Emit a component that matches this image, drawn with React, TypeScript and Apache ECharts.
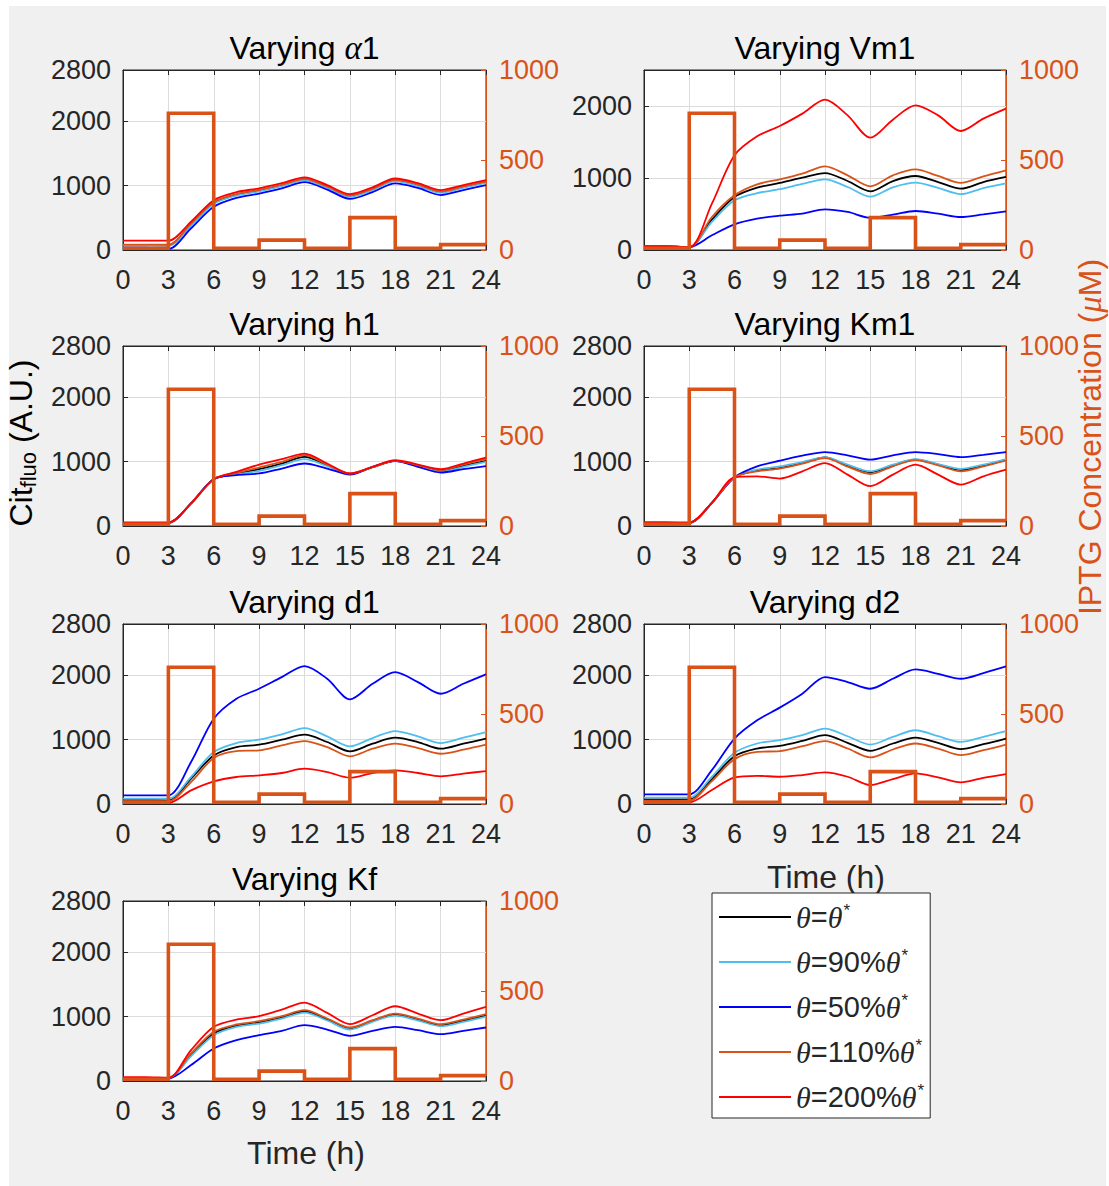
import React, { useEffect, useRef } from 'react';
import * as echarts from 'echarts';

// ---------- data ----------
const times = [0, 1.5, 3, 4.5, 6, 7.5, 9, 10.5, 12, 13.5, 15, 16.5, 18, 19.5, 21, 22.5, 24];

const iptgEdges = [0, 3, 6, 9, 12, 15, 18, 21, 24];
const iptgLevels = [10, 760, 10, 55, 10, 180, 10, 30];

const percents = ['', '90%', '50%', '110%', '200%'];
const seriesNames = ['θ=θ*', 'θ=90%θ*', 'θ=50%θ*', 'θ=110%θ*', 'θ=200%θ*'];
const seriesColors = ['#000000', '#4DBEEE', '#0000FF', '#D95319', '#FF0000'];

const panelTitles = ['α1', 'Vm1', 'h1', 'Km1', 'd1', 'd2', 'Kf'];
const panelYMax = [2800, 2500, 2800, 2800, 2800, 2800, 2800];

// Varying α1
const a1_100 = [75, 75, 72, 395, 730, 858, 922, 1003, 1097, 977, 837, 941, 1079, 1007, 899, 977, 1055];
const a1_90 = [68, 68, 65, 382, 717, 847, 912, 993, 1088, 968, 828, 932, 1070, 998, 890, 968, 1046];
const a1_50 = [35, 35, 15, 338, 672, 810, 878, 958, 1055, 940, 795, 900, 1035, 965, 855, 932, 1010];
const a1_110 = [85, 85, 82, 410, 745, 870, 935, 1015, 1108, 988, 848, 952, 1090, 1018, 910, 988, 1066];
const a1_200 = [145, 145, 145, 440, 775, 900, 960, 1040, 1130, 1010, 870, 975, 1112, 1040, 932, 1010, 1088];

// Varying Vm1
const vm_100 = [50, 50, 40, 421, 736, 866, 931, 1005, 1069, 958, 815, 958, 1028, 944, 852, 944, 1014];
const vm_90 = [50, 50, 40, 390, 690, 790, 845, 918, 980, 875, 740, 870, 935, 862, 775, 860, 925];
const vm_50 = [50, 50, 40, 204, 356, 435, 477, 505, 565, 528, 449, 491, 542, 505, 458, 495, 537];
const vm_110 = [50, 50, 40, 458, 759, 912, 981, 1060, 1162, 1037, 884, 1037, 1120, 1028, 931, 1023, 1106];
const vm_200 = [50, 50, 40, 643, 1315, 1579, 1722, 1894, 2088, 1870, 1560, 1810, 2009, 1870, 1653, 1824, 1963];

// Varying h1
const h1_100 = [50, 50, 50, 351, 729, 811, 884, 972, 1075, 946, 811, 915, 1013, 941, 858, 935, 1013];
const h1_90 = [50, 50, 50, 351, 729, 801, 858, 946, 1039, 930, 806, 915, 1013, 935, 848, 920, 997];
const h1_50 = [50, 50, 50, 351, 729, 791, 817, 894, 972, 894, 801, 920, 1008, 920, 832, 884, 930];
const h1_110 = [50, 50, 50, 351, 729, 827, 910, 997, 1101, 956, 817, 915, 1013, 946, 868, 956, 1039];
const h1_200 = [55, 55, 55, 351, 729, 842, 956, 1039, 1127, 972, 817, 920, 1023, 956, 884, 972, 1065];

// Varying Km1
const km_100 = [50, 50, 50, 361, 758, 861, 902, 979, 1067, 938, 840, 943, 1031, 954, 871, 938, 1031];
const km_90 = [50, 50, 50, 361, 758, 876, 928, 995, 1067, 954, 850, 954, 1041, 964, 887, 954, 1041];
const km_50 = [50, 50, 50, 361, 758, 928, 1015, 1093, 1149, 1098, 1031, 1098, 1149, 1119, 1072, 1108, 1149];
const km_110 = [50, 50, 50, 361, 758, 850, 892, 969, 1057, 923, 809, 928, 1026, 943, 850, 928, 1015];
const km_200 = [60, 60, 55, 361, 758, 773, 737, 850, 979, 799, 619, 799, 954, 799, 644, 773, 876];

// Varying d1
const d1_100 = [60, 60, 57, 394, 756, 886, 922, 1000, 1078, 964, 819, 938, 1031, 964, 860, 938, 1016];
const d1_90 = [85, 85, 83, 420, 808, 948, 1000, 1083, 1181, 1052, 896, 1026, 1135, 1052, 948, 1031, 1119];
const d1_50 = [135, 135, 135, 653, 1326, 1637, 1793, 1974, 2145, 1948, 1627, 1870, 2052, 1896, 1715, 1870, 2016];
const d1_110 = [45, 45, 41, 342, 715, 824, 834, 912, 979, 886, 741, 860, 938, 870, 782, 845, 922];
const d1_200 = [20, 20, 16, 212, 352, 420, 446, 482, 549, 497, 409, 482, 523, 482, 430, 472, 513];

// Varying d2
const d2_100 = [72, 72, 72, 388, 744, 863, 904, 982, 1070, 951, 827, 941, 1034, 951, 853, 930, 1018];
const d2_90 = [98, 98, 98, 424, 796, 941, 992, 1070, 1173, 1054, 925, 1044, 1147, 1054, 966, 1044, 1132];
const d2_50 = [150, 150, 150, 527, 1018, 1302, 1499, 1716, 1974, 1897, 1793, 1948, 2093, 2026, 1948, 2036, 2140];
const d2_110 = [52, 52, 52, 357, 698, 811, 822, 899, 977, 863, 724, 848, 941, 863, 760, 837, 925];
const d2_200 = [36, 36, 26, 217, 413, 439, 424, 450, 491, 424, 295, 388, 475, 413, 336, 408, 465];

// Varying Kf
const kf_100 = [50, 50, 46, 403, 739, 858, 910, 987, 1085, 956, 822, 935, 1034, 956, 868, 935, 1018];
const kf_90 = [50, 50, 45, 388, 713, 842, 894, 972, 1065, 941, 801, 920, 1018, 941, 853, 920, 1003];
const kf_50 = [45, 45, 40, 248, 506, 636, 713, 780, 868, 801, 703, 780, 842, 791, 729, 780, 832];
const kf_110 = [50, 50, 48, 429, 765, 879, 930, 1008, 1101, 972, 832, 946, 1049, 972, 884, 956, 1039];
const kf_200 = [60, 60, 52, 481, 842, 956, 1008, 1111, 1220, 1059, 884, 1023, 1163, 1049, 946, 1049, 1152];

const panelData = [
  [a1_100, a1_90, a1_50, a1_110, a1_200],
  [vm_100, vm_90, vm_50, vm_110, vm_200],
  [h1_100, h1_90, h1_50, h1_110, h1_200],
  [km_100, km_90, km_50, km_110, km_200],
  [d1_100, d1_90, d1_50, d1_110, d1_200],
  [d2_100, d2_90, d2_50, d2_110, d2_200],
  [kf_100, kf_90, kf_50, kf_110, kf_200],
];

// ---------- layout / style ----------
const FONT = '"Liberation Sans", Arial, Helvetica, sans-serif';
const SERIF = '"Liberation Serif", "Times New Roman", serif';
const TICK = '#262626';
const ORANGE = '#D95319';
const GRIDC = '#dcdcdc';
const colLeft = [123, 644];
const colWidth = [363, 362];
const rowTop = [70, 346, 624, 901];
const gridH = 180;
const tickFont = 27;
const labelFont = 32;

function buildOption() {
  const grids: any[] = [];
  const xAxes: any[] = [];
  const yAxes: any[] = [];
  const series: any[] = [];
  const titles: any[] = [];

  const iptgPoints: number[][] = [];
  iptgLevels.forEach((lv, i) => {
    iptgPoints.push([iptgEdges[i], lv]);
    iptgPoints.push([iptgEdges[i + 1], lv]);
  });

  panelData.forEach((lines, p) => {
    const col = p % 2;
    const row = Math.floor(p / 2);
    const left = colLeft[col];
    const width = colWidth[col];
    const top = rowTop[row];
    const yMax = panelYMax[p];
    grids.push({
      left, top, width, height: gridH,
      show: true, backgroundColor: '#ffffff', borderColor: TICK, borderWidth: 1,
    });
    xAxes.push({
      type: 'value', gridIndex: p, position: 'bottom', min: 0, max: 24, interval: 3,
      axisLine: { show: true, onZero: false, lineStyle: { color: TICK, width: 1 } },
      axisTick: { show: true, inside: true, length: 5, lineStyle: { color: TICK } },
      axisLabel: { show: true, fontSize: tickFont, fontFamily: FONT, color: TICK, margin: 16, formatter: (v: number) => String(v) },
      splitLine: { show: true, lineStyle: { color: GRIDC, width: 1 } },
    });
    xAxes.push({
      type: 'value', gridIndex: p, position: 'top', min: 0, max: 24, interval: 3,
      axisLine: { show: true, onZero: false, lineStyle: { color: TICK, width: 1 } },
      axisTick: { show: true, inside: true, length: 5, lineStyle: { color: TICK } },
      axisLabel: { show: false },
      splitLine: { show: false },
    });
    yAxes.push({
      type: 'value', gridIndex: p, position: 'left', min: 0, max: yMax, interval: 1000,
      axisLine: { show: true, onZero: false, lineStyle: { color: TICK, width: 1 } },
      axisTick: { show: true, inside: true, length: 5, lineStyle: { color: TICK } },
      axisLabel: {
        show: true, fontSize: tickFont, fontFamily: FONT, color: TICK, margin: 12,
        formatter: (v: number) => (v % 1000 === 0 || v === 2800 ? String(v) : ''),
      },
      splitLine: { show: true, lineStyle: { color: GRIDC, width: 1 } },
    });
    yAxes.push({
      type: 'value', gridIndex: p, position: 'right', min: 0, max: 1000, interval: 500,
      axisLine: { show: true, onZero: false, lineStyle: { color: ORANGE, width: 1 } },
      axisTick: { show: true, inside: true, length: 5, lineStyle: { color: ORANGE } },
      axisLabel: { show: true, fontSize: tickFont, fontFamily: FONT, color: ORANGE, margin: 13, formatter: (v: number) => String(v) },
      splitLine: { show: false },
    });
    const isAlpha = panelTitles[p].startsWith('α');
    titles.push({
      text: `{n|Varying }{g|${isAlpha ? 'α' : ''}}{n|${isAlpha ? panelTitles[p].slice(1) : panelTitles[p]}}`,
      left: left + width / 2,
      top: top - 22,
      textAlign: 'center',
      textVerticalAlign: 'middle',
      padding: 0,
      textStyle: {
        fontWeight: 'normal',
        rich: {
          n: { fontSize: labelFont, fontFamily: FONT, fontWeight: 'normal', color: '#000000' },
          g: { fontSize: labelFont + 1, fontFamily: SERIF, fontStyle: 'italic', fontWeight: 'normal', color: '#000000' },
        },
      },
    });
    lines.forEach((vals, i) => {
      series.push({
        type: 'line', name: seriesNames[i], xAxisIndex: 2 * p, yAxisIndex: 2 * p,
        data: times.map((t, k) => [t, vals[k]]),
        showSymbol: false, symbol: 'none', smooth: 0.3,
        lineStyle: { color: seriesColors[i], width: 1.8 },
        itemStyle: { color: seriesColors[i] },
        emphasis: { disabled: true }, z: 2,
      });
    });
    series.push({
      type: 'line', name: 'IPTG', xAxisIndex: 2 * p, yAxisIndex: 2 * p + 1,
      data: iptgPoints,
      showSymbol: false, symbol: 'none',
      lineStyle: { color: ORANGE, width: 3.6, join: 'miter', cap: 'butt' },
      itemStyle: { color: ORANGE },
      emphasis: { disabled: true }, z: 3,
    });
  });

  const legendRich = {
    th: { fontSize: 30, fontFamily: SERIF, fontStyle: 'italic', color: TICK, lineHeight: 30 },
    n: { fontSize: 29, fontFamily: FONT, color: TICK, lineHeight: 30 },
    sup: { fontSize: 17, fontFamily: FONT, color: TICK, lineHeight: 30, verticalAlign: 'top', padding: [0, 0, 12, 1] },
  };

  return {
    animation: false,
    backgroundColor: 'transparent',
    grid: grids,
    xAxis: xAxes,
    yAxis: yAxes,
    series,
    title: titles,
    legend: {
      data: seriesNames,
      orient: 'vertical',
      left: 712,
      top: 893,
      backgroundColor: '#ffffff',
      borderColor: TICK,
      borderWidth: 1,
      borderRadius: 0,
      padding: [9, 6, 6, 7],
      itemGap: 15,
      itemWidth: 72,
      itemHeight: 2,
      icon: 'rect',
      selectedMode: false,
      formatter: (name: string) => {
        const i = seriesNames.indexOf(name);
        return `{th|θ}{n|=${percents[i]}}{th|θ}{sup|*}`;
      },
      textStyle: { fontSize: 29, fontFamily: FONT, color: TICK, rich: legendRich },
    },
    graphic: [
      {
        type: 'text', x: 21, y: 443, rotation: Math.PI / 2,
        style: {
          text: '{n|Cit}{s|fluo}{n| (A.U.)}',
          align: 'center', verticalAlign: 'middle',
          rich: {
            n: { fontSize: labelFont, fontFamily: FONT, fill: '#000000', lineHeight: 36 },
            s: { fontSize: 22, fontFamily: FONT, fill: '#000000', lineHeight: 36, verticalAlign: 'bottom', padding: [15, 0, 0, 0] },
          },
        },
      },
      {
        type: 'text', x: 1090, y: 437, rotation: Math.PI / 2,
        style: {
          text: '{n|IPTG Concentration (}{g|μ}{n|M)}',
          align: 'center', verticalAlign: 'middle',
          rich: {
            n: { fontSize: labelFont, fontFamily: FONT, fill: ORANGE },
            g: { fontSize: labelFont + 1, fontFamily: SERIF, fontStyle: 'italic', fill: ORANGE },
          },
        },
      },
      {
        type: 'text', x: 306, y: 1153,
        style: { text: 'Time (h)', align: 'center', verticalAlign: 'middle', fontSize: labelFont, fontFamily: FONT, fill: TICK },
      },
      {
        type: 'text', x: 826, y: 877,
        style: { text: 'Time (h)', align: 'center', verticalAlign: 'middle', fontSize: labelFont, fontFamily: FONT, fill: TICK },
      },
    ],
  };
}

export default function App() {
  const ref = useRef<HTMLDivElement>(null);
  useEffect(() => {
    if (!ref.current) return;
    const chart = echarts.init(ref.current, null, { renderer: 'svg', width: 1109, height: 1186 });
    chart.setOption(buildOption() as any);
    return () => chart.dispose();
  }, []);
  return (
    <div style={{ position: 'absolute', left: 0, top: 0, width: 1109, height: 1186, background: '#ffffff' }}>
      <div style={{ position: 'absolute', left: 9, top: 6, width: 1097, height: 1180, background: '#f0f0f0' }} />
      <div ref={ref} style={{ position: 'absolute', left: 0, top: 0, width: 1109, height: 1186 }} />
    </div>
  );
}
